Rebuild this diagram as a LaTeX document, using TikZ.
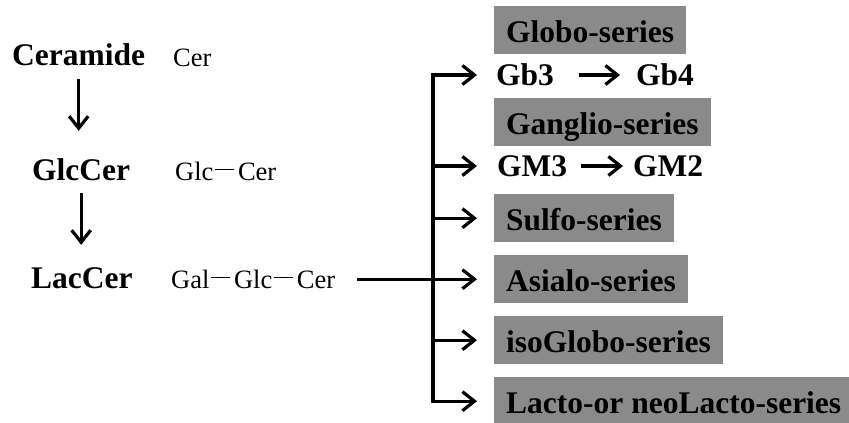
\documentclass[tikz,border=0pt]{standalone}
\usepackage{fontspec}
\setmainfont{Liberation Serif}
\usetikzlibrary{arrows.meta, positioning}
\definecolor{seriesgray}{RGB}{138,138,138}
\newcommand\bond{\hspace{2pt}\rule[0.36em]{0.7em}{1.8pt}\hspace{4pt}}

\begin{document}
\begin{tikzpicture}[
        x=1pt, y=-1pt,
        lipid/.style={font=\fontsize{31.5}{36}\selectfont\bfseries, inner sep=0pt, text height=21pt, text depth=0pt},
        sugar/.style={font=\fontsize{26.5}{30}\selectfont, inner sep=0pt, text height=19pt, text depth=0pt},
        seriesbox/.style={fill=seriesgray, anchor=north west, font=\fontsize{31.5}{36}\selectfont\bfseries,
                          inner xsep=12pt, inner ysep=11.5pt, text height=25pt, text depth=0pt},
        line/.style={line width=3.2pt},
        arr/.style={line, -{Straight Barb[length=12pt, width=19pt]}}
    ]
        \useasboundingbox (0,0) rectangle (849,423);

        % left column
        \node[lipid, anchor=base west] (cer)      at (12,65)   {Ceramide};
        \node[sugar, anchor=base west] (cerchain) at (173,66)  {Cer};
        \node[lipid, anchor=base west] (glccer)   at (32,180)  {GlcCer};
        \node[sugar, anchor=base west] (glcchain) at (175,180) {Glc\bond Cer};
        \node[lipid, anchor=base west] (laccer)   at (31,288)  {LacCer};
        \node[sugar, anchor=base west] (lacchain) at (171,288) {Gal\bond Glc\bond Cer};

        \draw[arr, shorten <=14pt, shorten >=28pt] (cer.south) -- (cer.south |- glccer.north);
        \draw[arr, shorten <=13pt, shorten >=22pt] (glccer.south) -- (glccer.south |- laccer.north);

        % series
        \node[seriesbox] (globo)    at (494,6)   {Globo-series};
        \node[seriesbox] (ganglio)  at (494,98)  {Ganglio-series};
        \node[seriesbox] (sulfo)    at (494,194) {Sulfo-series};
        \node[seriesbox] (asialo)   at (494,255) {Asialo-series};
        \node[seriesbox] (isoglobo) at (494,316) {isoGlobo-series};
        \node[seriesbox] (lacto)    at (494,377) {Lacto-or neoLacto-series};

        \node[lipid, anchor=west] (gb3) at (496,75)  {Gb3};
        \node[lipid, anchor=west] (gb4) at (636,75)  {Gb4};
        \node[lipid, anchor=west] (gm3) at (497,166) {GM3};
        \node[lipid, anchor=west] (gm2) at (633,166) {GM2};

        \draw[arr, shorten <=25pt, shorten >=16pt] (gb3) -- (gb4);
        \draw[arr, shorten <=14pt, shorten >=10pt] (gm3) -- (gm2);

        % branching from LacCer
        \coordinate (trunk) at (433,0);
        \draw[line, line cap=rect] (trunk |- gb3.west) -- (trunk |- lacto.west);
        \draw[arr, shorten <=22pt, shorten >=17pt] (lacchain.east |- asialo.west) -- (asialo.west);
        \foreach \target/\gap in {gb3/19, gm3/20, sulfo/17, isoglobo/17, lacto/17}
            \draw[arr, shorten >=\gap pt] (trunk |- \target.west) -- (\target.west);
    \end{tikzpicture}
\end{document}
